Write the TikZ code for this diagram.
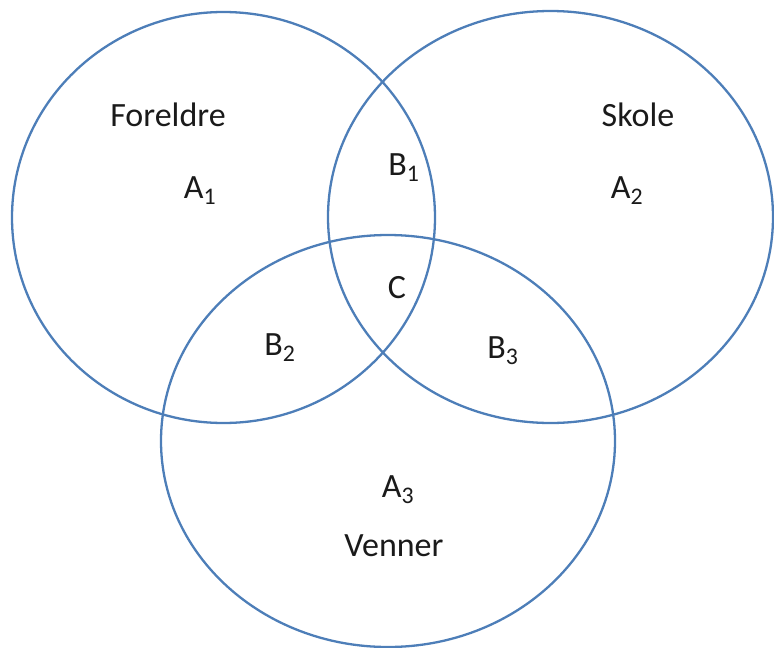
\documentclass[tikz,border=0pt]{standalone}
\usepackage{fontspec}
\setmainfont{Carlito}
\definecolor{vennblue}{HTML}{4D7EB8}
\definecolor{txt}{HTML}{1A1A1A}
\begin{document}
\begin{tikzpicture}[x=1pt,y=-1pt,
  ring/.style={draw=vennblue,line width=2.3pt},
  lbl/.style={anchor=base,inner sep=0pt,text=txt,font=\fontsize{34}{40}\selectfont}]
\useasboundingbox (0,0) rectangle (774,648);
\draw[ring] (223.5,217.5) ellipse [x radius=211.5pt,y radius=205.5pt];
\draw[ring] (550.5,217) ellipse [x radius=222.5pt,y radius=206pt];
\draw[ring] (388,441) ellipse [x radius=227pt,y radius=206pt];
\node[lbl] (foreldre) at (168,126) {Foreldre};
\node[lbl] (a1) at (200,198) {A\textsubscript{1}};
\node[lbl] (skole) at (638,126) {Skole};
\node[lbl] (a2) at (627,198) {A\textsubscript{2}};
\node[lbl] (b1) at (404,175) {B\textsubscript{1}};
\node[lbl] (c) at (397,298) {C};
\node[lbl] (b2) at (280,355) {B\textsubscript{2}};
\node[lbl] (b3) at (503,358) {B\textsubscript{3}};
\node[lbl] (a3) at (398,497) {A\textsubscript{3}};
\node[lbl] (venner) at (394,556) {Venner};
\end{tikzpicture}
\end{document}
